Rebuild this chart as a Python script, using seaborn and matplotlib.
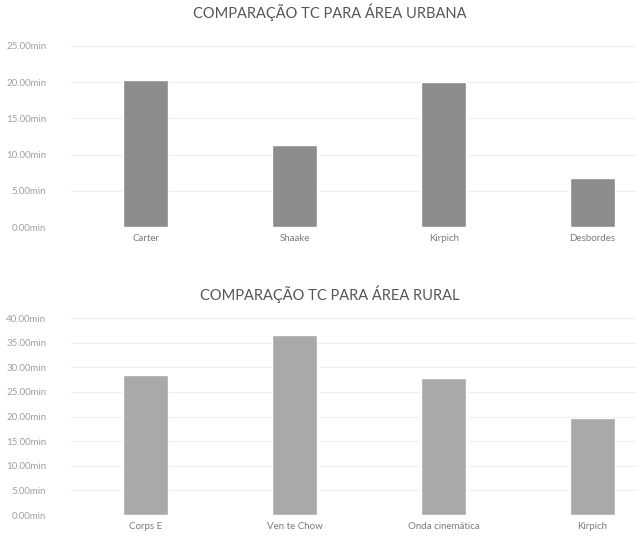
import matplotlib
matplotlib.use("Agg")
import matplotlib.pyplot as plt
import seaborn as sns
import pandas as pd
from matplotlib.ticker import FuncFormatter

# dados
metodos_urbana = ["Carter", "Shaake", "Kirpich", "Desbordes"]
tc_urbana = [20.3, 11.3, 20.0, 6.8]

metodos_rural = ["Corps E", "Ven te Chow", "Onda cinemática", "Kirpich"]
tc_rural = [28.4, 36.5, 27.8, 19.7]

sns.set_style("white")
plt.rcParams['font.family'] = ['Lato', 'DejaVu Sans']

txt = "#7a7a7a"
fmt = FuncFormatter(lambda v, p: "{0:.2f}min".format(v))

fig = plt.figure(figsize=(6.43, 5.41), dpi=100)
ax1 = fig.add_axes([0.111, 0.580, 0.880, 0.335])
ax2 = fig.add_axes([0.111, 0.048, 0.880, 0.364])

def painel(ax, nomes, valores, cor, ymax, titulo, pad):
    df = pd.DataFrame({"Metodo": nomes, "Tc": valores})
    sns.barplot(data=df, x="Metodo", y="Tc", color=cor, width=0.3,
                saturation=1, ax=ax, zorder=3)
    ax.set_xlim(-0.5, 3.3)
    ax.set_ylim(0, ymax)
    ax.set_yticks(range(0, ymax + 1, 5))
    ax.yaxis.set_major_formatter(fmt)
    ax.grid(axis="y", color="#efefef", lw=0.8, zorder=0)
    for s in ax.spines.values():
        s.set_visible(False)
    ax.tick_params(axis="y", length=0, pad=18, labelsize=7, labelcolor="#a0a0a0")
    ax.tick_params(axis="x", length=0, pad=5, labelsize=7, labelcolor=txt)
    ax.set_xlabel("")
    ax.set_ylabel("")
    ax.set_title(titulo, fontsize=10.5, color="#555555", pad=pad, x=0.457)

painel(ax1, metodos_urbana, tc_urbana, "#8c8c8c", 25, "COMPARAÇÃO TC PARA ÁREA URBANA", 20)
painel(ax2, metodos_rural, tc_rural, "#a9a9a9", 40, "COMPARAÇÃO TC PARA ÁREA RURAL", 13)

fig.savefig("out.png", dpi=100, facecolor="white")
